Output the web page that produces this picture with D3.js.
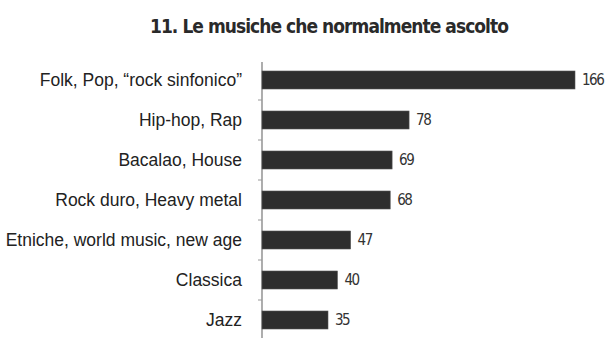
<!DOCTYPE html>
<meta charset="utf-8">
<script src="https://d3js.org/d3.v7.min.js"></script>
<style>
  body { margin: 0; background: #fff; }
</style>
<body>
<div id="chart"></div>
<script>
// data
var categories = ["Folk, Pop, \u201crock sinfonico\u201d", "Hip-hop, Rap", "Bacalao, House",
  "Rock duro, Heavy metal", "Etniche, world music, new age", "Classica", "Jazz"];
var values = [166, 78, 69, 68, 47, 40, 35];
var title = "11. Le musiche che normalmente ascolto";

var width = 605, height = 338;

var svg = d3.select("#chart").append("svg")
  .attr("width", width)
  .attr("height", height);

// title
svg.append("text")
  .attr("x", 150)
  .attr("y", 33)
  .attr("textLength", 358)
  .attr("lengthAdjust", "spacingAndGlyphs")
  .style("font-family", "DejaVu Sans Condensed, DejaVu Sans")
  .style("font-size", "20px")
  .style("font-weight", "bold")
  .style("letter-spacing", "-1px")
  .style("fill", "#2a2a2a")
  .text(title);

// scales
var x = d3.scaleLinear()
  .domain([0, 166])
  .range([262, 575]);

var y = d3.scaleBand()
  .domain(categories)
  .range([60, 340])
  .paddingInner(0.55)
  .paddingOuter(0.275);

// axis line with small ticks between bars
var yAxis = svg.append("g")
  .attr("transform", "translate(262,0)");
yAxis.append("line")
  .attr("y1", 62).attr("y2", 338)
  .attr("stroke", "#777").attr("stroke-width", 1.2);
yAxis.selectAll(".tk")
  .data(categories.slice(1))
  .enter().append("line")
  .attr("x1", -4).attr("x2", 0)
  .attr("y1", function(d) { return y(d) - y.step() * 0.275; })
  .attr("y2", function(d) { return y(d) - y.step() * 0.275; })
  .attr("stroke", "#999");

// category labels
svg.selectAll(".cat")
  .data(categories)
  .enter().append("text")
  .attr("x", 242)
  .attr("y", function(d) { return y(d) + y.bandwidth() / 2; })
  .attr("dy", "0.36em")
  .attr("text-anchor", "end")
  .style("font-family", "Liberation Sans, Arial")
  .style("font-size", "17.5px")
  .style("fill", "#222")
  .text(function(d) { return d; });

// bars
svg.selectAll(".bar")
  .data(values)
  .enter().append("rect")
  .attr("x", x(0))
  .attr("y", function(d, i) { return y(categories[i]); })
  .attr("width", function(d) { return x(d) - x(0); })
  .attr("height", y.bandwidth())
  .style("fill", "#2e2e2e")
  .style("stroke", "#555")
  .style("stroke-width", 0.6);

// value labels
svg.selectAll(".val")
  .data(values)
  .enter().append("text")
  .attr("x", function(d) { return x(d) + 7; })
  .attr("y", function(d, i) { return y(categories[i]) + y.bandwidth() / 2; })
  .attr("dy", "0.36em")
  .style("font-family", "DejaVu Sans Condensed, DejaVu Sans")
  .style("font-size", "15px")
  .style("letter-spacing", "-1.5px")
  .style("fill", "#333")
  .text(function(d) { return d; });
</script>
</body>
